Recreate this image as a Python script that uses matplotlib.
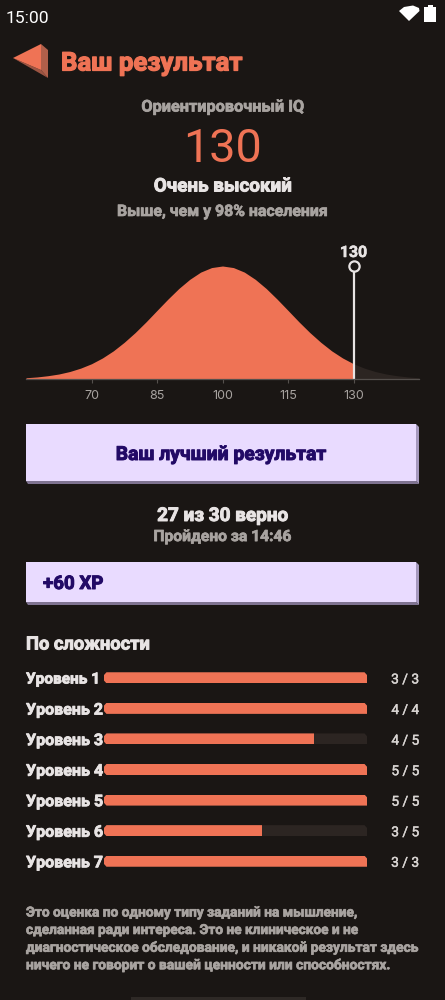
import numpy as np
import matplotlib
matplotlib.use('Agg')
import matplotlib.pyplot as plt
import matplotlib.patheffects as pe
from matplotlib.patches import Polygon, Rectangle

BG = '#1a1614'
CORAL = '#ef7355'
TRACK = '#2c2522'
LILAC = '#e9dbff'
INK = '#220a66'
WHITE = '#e8e4e4'
GREY = '#a8a3a0'

# density curve (share of the peak height)
iq = [55, 57.5, 60, 62.5, 65, 67.5, 70, 72.5, 75, 77.5, 80, 82.5, 85, 87.5, 90, 92.5, 95, 97.5,
      100, 102.5, 105, 107.5, 110, 112.5, 115, 117.5, 120, 122.5, 125, 127.5, 130,
      132.5, 135, 137.5, 140, 142.5, 145]
density = [.011, .018, .029, .044, .066, .096, .135, .186, .249, .325, .411, .506, .607, .707, .801, .882, .946, .986,
           1, .986, .946, .882, .801, .707, .607, .506, .411, .325, .249, .186, .135,
           .096, .066, .044, .029, .018, .011]
iq_ticks = [70, 85, 100, 115, 130]
score = 130

levels = ['Уровень 1', 'Уровень 2', 'Уровень 3', 'Уровень 4', 'Уровень 5', 'Уровень 6', 'Уровень 7']
correct = [3, 4, 4, 5, 5, 3, 3]
totals = [3, 4, 5, 5, 5, 5, 3]

note = ['Это оценка по одному типу заданий на мышление,',
        'сделанная ради интереса. Это не клиническое и не',
        'диагностическое обследование, и никакой результат здесь',
        'ничего не говорит о вашей ценности или способностях.']

W, H = 445, 1000
fig = plt.figure(figsize=(W / 100, H / 100), dpi=100, facecolor=BG)


def px_axes(x0, y0, x1, y1):
    # axes from pixel box, y measured from the top
    return fig.add_axes([x0 / W, 1 - y1 / H, (x1 - x0) / W, (y1 - y0) / H])


ui = px_axes(0, 0, W, H)
ui.set_xlim(0, W)
ui.set_ylim(H, 0)
ui.axis('off')


def fit_text(x, y, s, width, color, ha='left', family='Roboto', weight='bold', size=10, stroke=0.5):
    # scale the font so the string has the same pixel width as the original
    t = ui.text(x, y, s, color=color, ha=ha, va='center_baseline', family=family, weight=weight, fontsize=size)
    w = t.get_window_extent(fig.canvas.get_renderer()).width
    t.set_fontsize(size * width / w)
    if stroke:
        t.set_path_effects([pe.withStroke(linewidth=stroke, foreground=color)])
    return t


def card(x0, y0, x1, y1):
    ui.add_patch(Polygon([(x0, y1), (x1, y1), (x1 + 3, y1 + 3), (x0 + 2, y1 + 3)], color='#7f7391', lw=0))
    ui.add_patch(Polygon([(x1, y0), (x1 + 3, y0 + 3), (x1 + 3, y1 + 3), (x1, y1)], color='#a598bd', lw=0))
    ui.add_patch(Rectangle((x0, y0), x1 - x0, y1 - y0, color=LILAC, lw=0))


# status bar
ui.text(6, 17, '15:00', color='white', family='Roboto', fontsize=12.6, va='center_baseline')
ui.add_patch(Polygon([(399, 11), (404, 7), (413, 5.5), (419, 8), (419.5, 11), (409, 21)], color='white', lw=0))
ui.add_patch(Rectangle((424, 7), 12, 15, color='white', lw=0))
ui.add_patch(Rectangle((427.5, 5), 5, 2, color='white', lw=0))

# header arrow
ui.add_patch(Polygon([(13, 58), (41, 70), (48, 78)], color='#9c5442', lw=0))
ui.add_patch(Polygon([(41, 44), (48, 50), (48, 78), (41, 70)], color='#b05f4a', lw=0))
ui.add_patch(Polygon([(13, 58), (41, 44), (41, 70)], color=CORAL, lw=0))
fit_text(61, 61, 'Ваш результат', 182, CORAL, stroke=0.9)

fit_text(222.5, 105.5, 'Ориентировочный IQ', 163, GREY, ha='center')
fit_text(222.5, 144, '130', 79, CORAL, ha='center', weight='normal', size=34, stroke=0)
fit_text(222.5, 184.5, 'Очень высокий', 138, WHITE, ha='center', stroke=0.7)
fit_text(222.5, 210, 'Выше, чем у 98% населения', 211, GREY, ha='center')

# bell curve
ax = px_axes(26, 250, 419, 379)
ax.set_facecolor('none')
ax.set_xlim(55, 145)
ax.set_ylim(0, 129 / 113)
iq_arr = np.array(iq)
dens = np.array(density)
ax.fill_between(iq_arr, dens, where=iq_arr <= score, color=CORAL, lw=0)
ax.fill_between(iq_arr, dens, where=iq_arr >= score, color=TRACK, lw=0)
ax.plot([score, score], [0, 1], color=WHITE, lw=1.6, solid_capstyle='butt')
ax.plot([score], [1], 'o', ms=7.4, mfc=BG, mec=WHITE, mew=1.6)
ax.set_xticks(iq_ticks)
ax.set_xticklabels(iq_ticks, family='Inter', fontsize=9, color=GREY)
ax.tick_params(axis='x', length=3, width=.8, color='#55504d', pad=5)
ax.set_yticks([])
for side in ['top', 'left', 'right']:
    ax.spines[side].set_visible(False)
ax.spines['bottom'].set_color('#55504d')
ax.spines['bottom'].set_linewidth(.9)
fit_text(353.5, 251, str(score), 27, WHITE, ha='center', stroke=0.4)

# cards
card(26, 424, 416, 481)
fit_text(221, 453, 'Ваш лучший результат', 211, INK, ha='center', stroke=0.7)
fit_text(222.5, 514, '27 из 30 верно', 131, WHITE, ha='center', stroke=0.7)
fit_text(222.5, 535, 'Пройдено за 14:46', 138, GREY, ha='center')
card(26, 562, 416, 602)
fit_text(43, 582, '+60 XP', 60, INK, stroke=0.7)

fit_text(26, 642.5, 'По сложности', 124, WHITE, stroke=0.7)

# level bars
bx = px_axes(104, 662.5, 367, 876.5)
bx.set_xlim(0, 1)
bx.set_ylim(6.5, -0.5)
bx.axis('off')
bx.patch.set_visible(False)
row = np.arange(len(levels))
share = np.array(correct) / np.array(totals)
bh = 11 / (214 / 7)
tracks = bx.barh(row, np.ones(len(levels)), height=bh, color=TRACK, lw=0)
fills = bx.barh(row, share, height=bh, color=CORAL, lw=0)
for i, name in enumerate(levels):
    y = 678 + i * 30.55
    lab_w = 74 if name[-1] == '1' else 77
    fit_text(26, y, name, lab_w, WHITE, stroke=0.6)
    fit_text(419, y, f'{correct[i]} / {totals[i]}', 28, '#d8d4d2', ha='right', weight='normal', stroke=0.3)
    # cut the corners of the track
    c = 2.5 / 263
    e = bh * .25
    clip = Polygon([(c, i - bh / 2), (1 - c, i - bh / 2), (1, i - bh / 2 + e), (1, i + bh / 2),
                    (c, i + bh / 2), (0, i + bh / 2 - e), (0, i - bh / 2 + e)],
                   transform=bx.transData)
    tracks[i].set_clip_path(clip)
    fills[i].set_clip_path(clip)

# footnote
note_w = [332, 333, 393, 365]
for i, line in enumerate(note):
    fit_text(26, 911 + i * 17.5, line, note_w[i], GREY)

# sheet handle at the bottom
ui.add_patch(Rectangle((131, 997), 175, 3, color='#2e2926', lw=0))

fig.savefig('out.png', dpi=100, facecolor=BG)
